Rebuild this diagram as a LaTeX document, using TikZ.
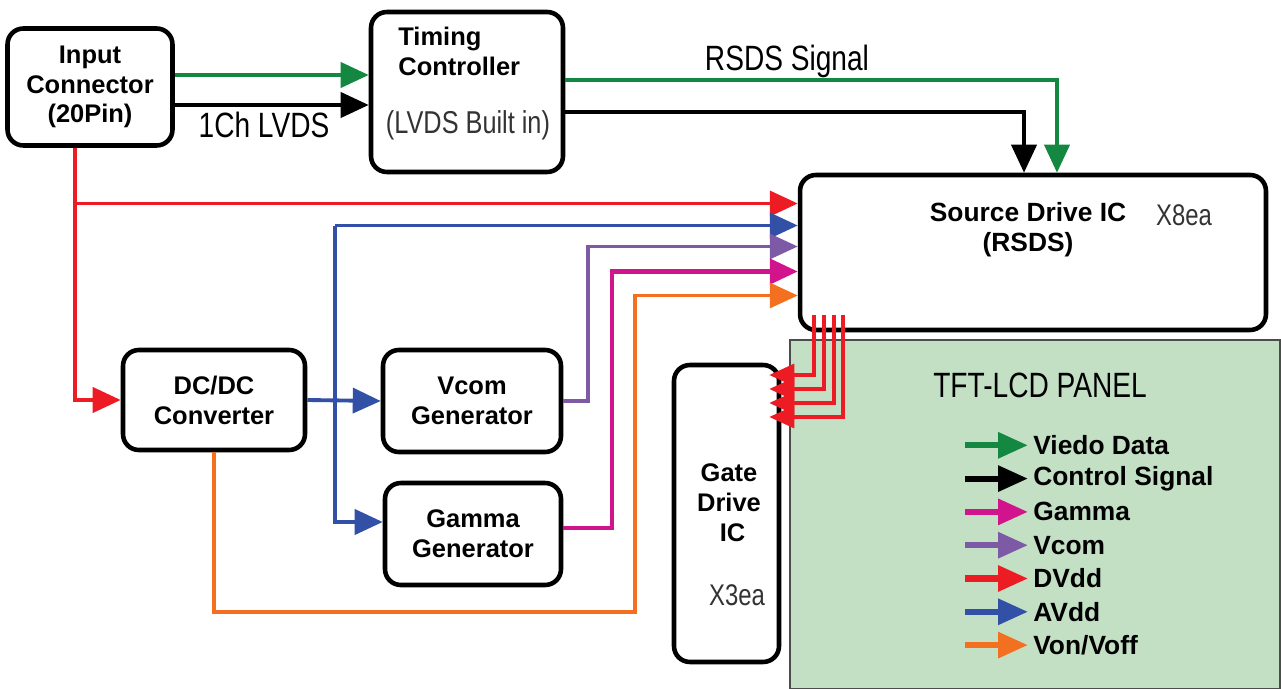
\documentclass[tikz,border=0pt]{standalone}
\usepackage{fontspec}
\setmainfont{Liberation Sans}
\newfontfamily\thinfont[FakeStretch=0.8]{Liberation Sans}
\usetikzlibrary{arrows.meta,positioning,calc}

\definecolor{vdata}{RGB}{20,135,65}
\definecolor{dvdd}{RGB}{237,28,36}
\definecolor{avdd}{RGB}{50,80,165}
\definecolor{vcomc}{RGB}{125,90,165}
\definecolor{gammac}{RGB}{210,20,140}
\definecolor{vonoff}{RGB}{243,112,33}
\definecolor{panelgreen}{RGB}{195,224,197}

\tikzset{
  boldtxt/.style={font=\bfseries\fontsize{14.5}{17}\selectfont, align=center, inner sep=0pt},
  blk/.style={boldtxt, draw, line width=2.6pt, rounded corners=9pt},
  thintxt/.style={font=\thinfont\fontsize{20}{22}\selectfont, inner sep=0pt},
  lighttxt/.style={font=\thinfont\fontsize{17}{20}\selectfont, text=black!80, inner sep=0pt},
  panel/.style={fill=panelgreen, draw=black!70, line width=1.2pt},
  sig/.style={line width=2.2pt, -{Triangle[length=0.56cm,width=0.5cm]}},
  thinsig/.style={sig, line width=1.8pt},
  gatesig/.style={line width=1.8pt, -{Triangle[length=0.5cm,width=0.44cm]}},
  legarrow/.style={line width=3.5pt, -{Triangle[length=0.6cm,width=0.5cm]}},
  legtxt/.style={font=\bfseries\fontsize{15}{17}\selectfont, inner sep=0pt}
}

\begin{document}
\begin{tikzpicture}[x=0.02cm,y=-0.02cm]
\useasboundingbox (0,0) rectangle (1281,689);

% Panel
\node[panel, minimum width=9.8cm, minimum height=6.98cm] (panel) at (1035,514.5) {};
\node[thintxt] (tft) at (1040,385) {TFT-LCD PANEL};

% Blocks
\node[blk, minimum width=3.3cm, minimum height=2.34cm] (inp) at (90,87) {Input\\Connector\\(20Pin)};
\node[blk, minimum width=3.84cm, minimum height=3.2cm] (tcon) at (467,92) {};
\node[boldtxt, anchor=north west, align=left] (tcontxt) at (398,27) {Timing\\Controller};
\node[lighttxt, font=\thinfont\fontsize{18}{20}\selectfont] (lvds) at (468,125) {(LVDS Built in)};
\node[blk, minimum width=9.32cm, minimum height=3.1cm] (sdic) at (1033,252.5) {};
\node[boldtxt, font=\bfseries\fontsize{15}{17}\selectfont] (sdictxt) at (1028,230) {Source Drive IC\\(RSDS)};
\node[lighttxt] (x8) at (1184,215) {X8ea};
\node[blk, minimum width=2.1cm, minimum height=5.94cm] (gdic) at (726.5,513.5) {};
\node[boldtxt] (gtxt) at (729,503) {Gate\\Drive\\\ IC};
\node[lighttxt] (x3) at (737,595) {X3ea};
\node[blk, minimum width=3.64cm, minimum height=2.0cm] (dcdc) at (214,400) {DC/DC\\Converter};
\node[blk, minimum width=3.56cm, minimum height=2.04cm] (vcom) at (472,401) {Vcom\\Generator};
\node[blk, minimum width=3.52cm, minimum height=2.04cm] (gamma) at (473,534) {Gamma\\Generator};

% Input -> Timing Controller
\coordinate (g0) at ([yshift=0.24cm]inp.east);
\coordinate (k0) at ([yshift=-0.36cm]inp.east);
\draw[sig, vdata] (g0) -- (g0 -| tcon.west);
\draw[sig] (k0) -- (k0 -| tcon.west);
\node[thintxt, anchor=north] (lvdslbl) at (264,112) {1Ch LVDS};

% Timing Controller -> Source Drive IC
\draw[sig, vdata] ([yshift=0.24cm]tcon.east) -| ([xshift=0.48cm]sdic.north);
\draw[sig] ([yshift=-0.4cm]tcon.east) -| ([xshift=-0.18cm]sdic.north);
\node[thintxt, anchor=south] (rsds) at (787,78) {RSDS Signal};

% Source Drive IC inputs
\coordinate (s1) at ([yshift=0.98cm]sdic.west);
\coordinate (s2) at ([yshift=0.54cm]sdic.west);
\coordinate (s3) at ([yshift=0.12cm]sdic.west);
\coordinate (s4) at ([yshift=-0.38cm]sdic.west);
\coordinate (s5) at ([yshift=-0.86cm]sdic.west);
\coordinate (r0) at ([xshift=-0.3cm]inp.south);
\coordinate (bx) at (335,400);
\coordinate (px) at (588,400);
\coordinate (mx) at (612,400);
\coordinate (oc) at (635,612);

% DVdd
\draw[sig, dvdd] (r0) |- (dcdc.west);
\draw[sig, dvdd] (r0 |- s1) -- (s1);
% AVdd
\draw[sig, avdd] (dcdc.east) -- (vcom.west);
\draw[sig, avdd] (bx |- s2) -- (s2);
\draw[sig, avdd] (bx |- s2) |- ([yshift=0.24cm]gamma.west);
% Vcom
\draw[thinsig, vcomc] (vcom.east) -| (px |- s3) -- (s3);
% Gamma
\draw[sig, gammac, line width=2.6pt] ([yshift=0.12cm]gamma.east) -| (mx |- s4) -- (s4);
% Von/Voff
\draw[thinsig, vonoff] (dcdc.south) |- (oc) |- (s5);

% Source Drive IC -> Gate Drive IC
\foreach \bx/\gy [count=\i] in {814/375, 824/389, 834/403, 843/417} {
  \coordinate (b\i) at (\bx,315);
  \coordinate (g\i) at (\bx,\gy);
  \draw[gatesig, dvdd, shorten >=-0.24cm] (b\i) |- (gdic.east |- g\i);
}

% Legend
\foreach \c/\t [count=\i] in {vdata/Viedo Data, black/Control Signal, gammac/Gamma, vcomc/Vcom, dvdd/DVdd, avdd/AVdd, vonoff/{Von/Voff}} {
  \node[legtxt, anchor=west] (leg\i) at (1033,412+33.3*\i) {\t};
  \draw[legarrow, \c] ([xshift=-1.36cm]leg\i.west) -- ([xshift=-0.1cm]leg\i.west);
}
\end{tikzpicture}
\end{document}
